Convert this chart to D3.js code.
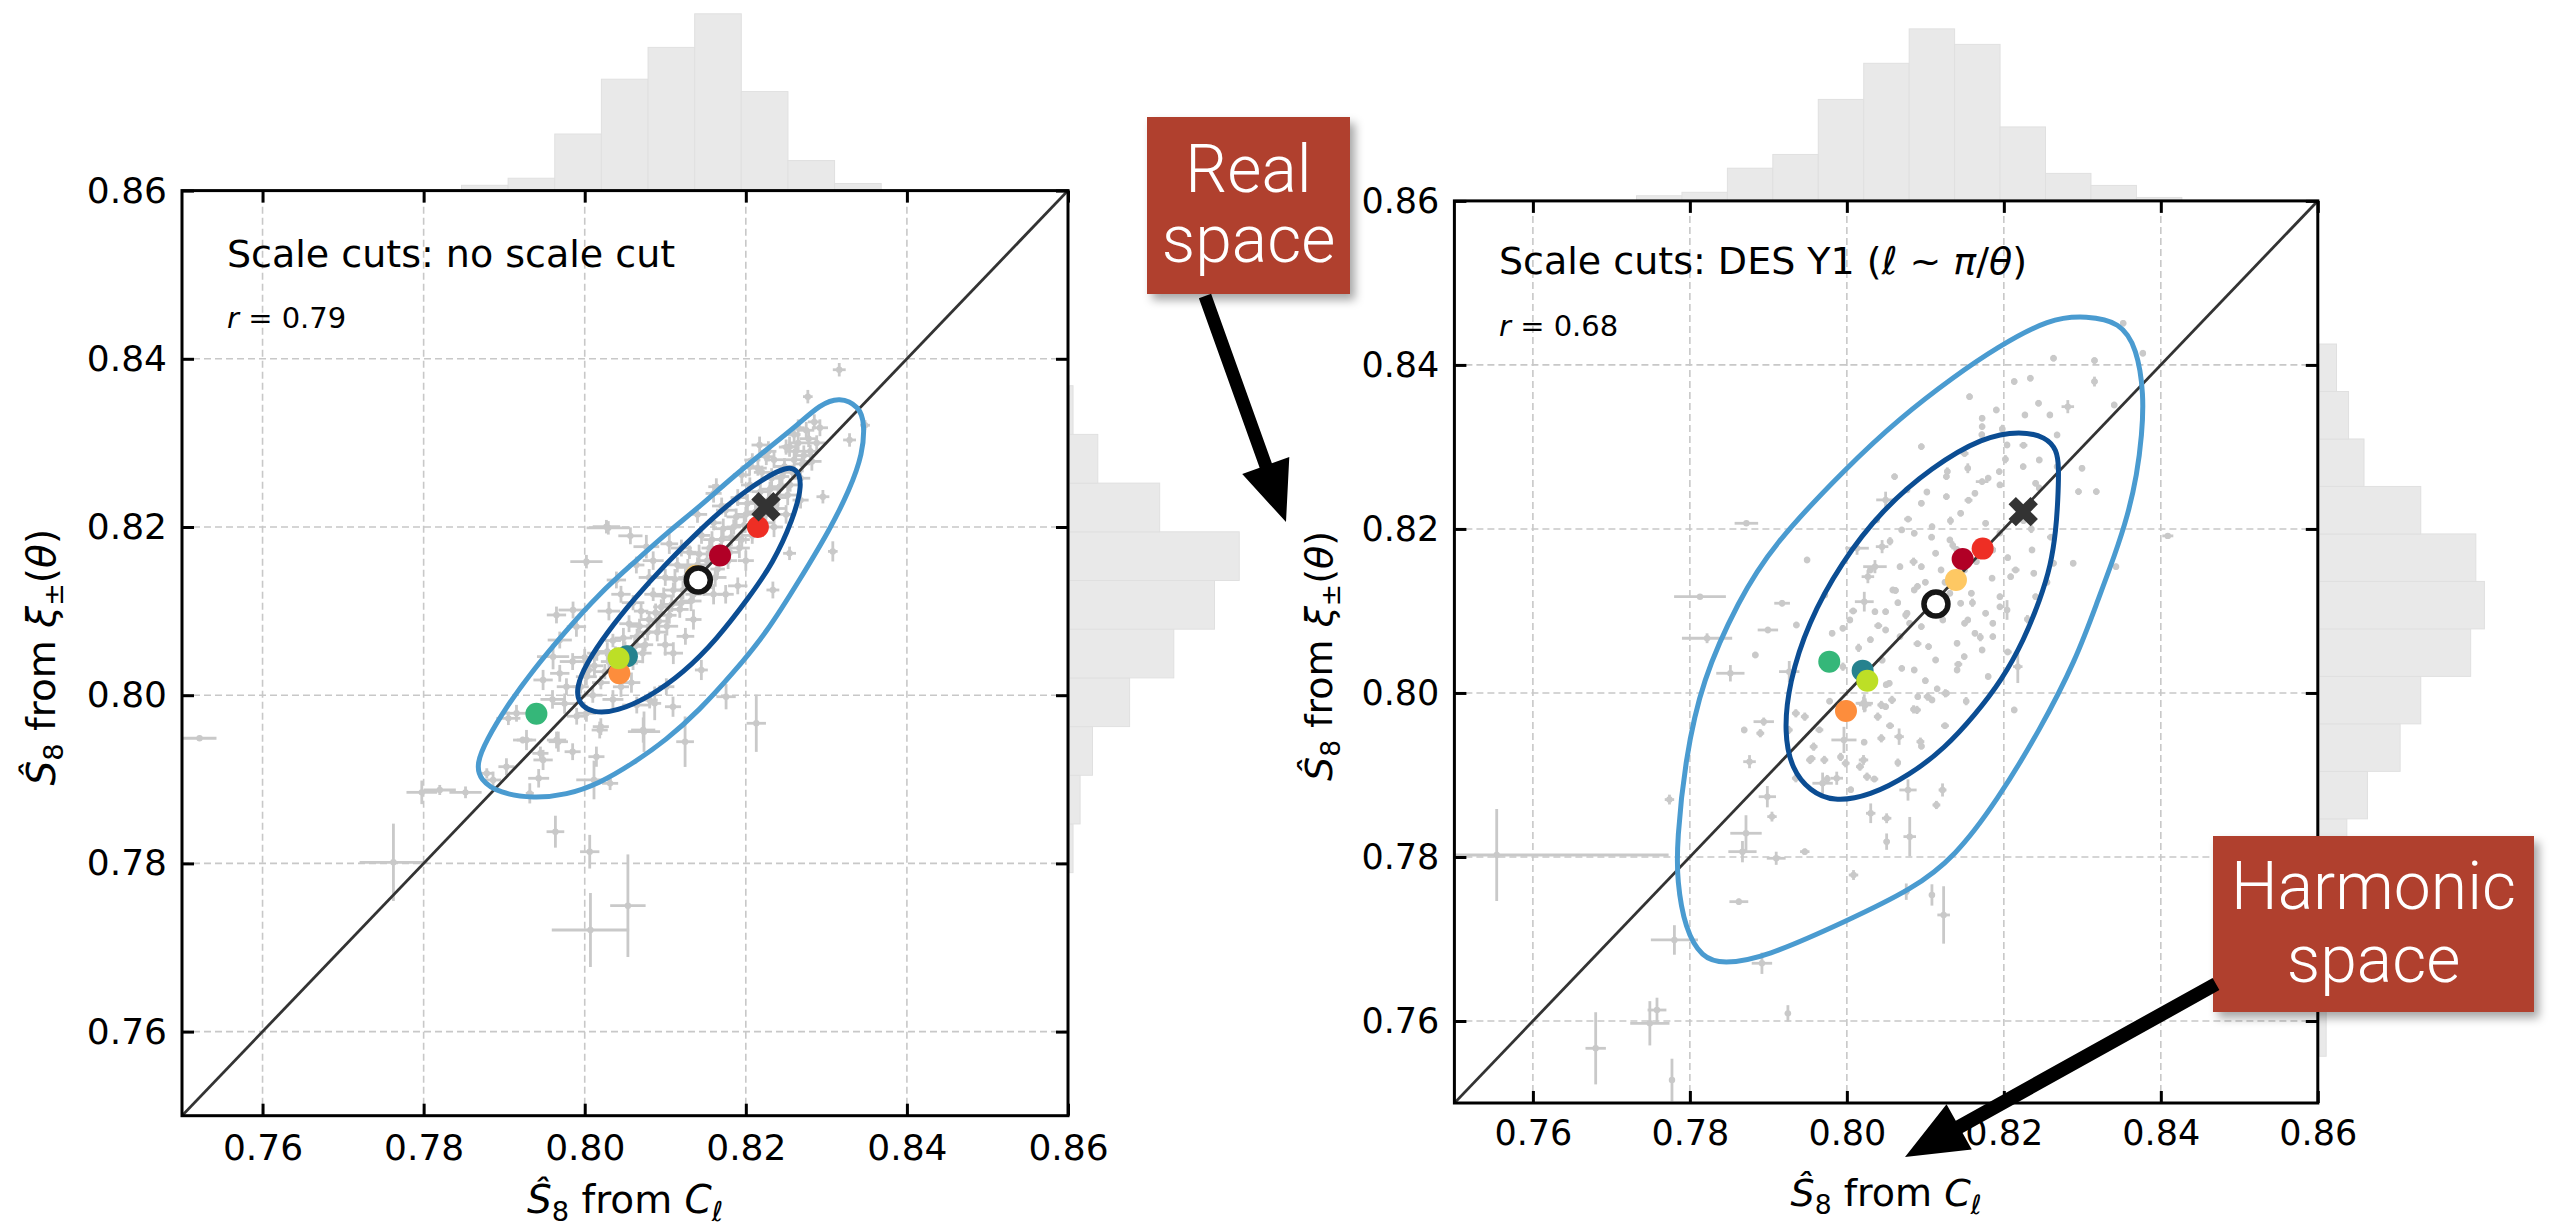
<!DOCTYPE html>
<meta charset="utf-8">
<script src="https://d3js.org/d3.v7.min.js"></script>
<style>
  body { margin: 0; background: #fff; }
  svg { display: block; }
  text { font-family: "DejaVu Sans", sans-serif; }
</style>
<div id="chart"></div>
<script>

// ---------- data ----------
var tickVals = [0.76, 0.78, 0.80, 0.82, 0.84, 0.86];
var gridVals = [0.76, 0.78, 0.80, 0.82, 0.84];
var binWidth = 0.00579;

// marginal histograms (counts, arbitrary units)
var leftTopStart = 0.7847;
var leftTopCounts = [3, 7, 32, 63, 81, 100, 56, 17, 4];
var leftSideStart = 0.7789;
var leftSideCounts = [2, 6, 13, 34, 59, 82, 96, 51, 16, 2];
var rightTopStart = 0.7732;
var rightTopCounts = [3, 5, 19, 27, 59, 80, 100, 91, 43, 16, 9, 2];
var rightSideStart = 0.7557;
var rightSideCounts = [4, 5, 8, 13, 16, 28, 47, 59, 88, 96, 91, 59, 26, 17, 10];

// simulations: [x, y, xerr, yerr]
var leftPoints = [
  [0.77625,0.78013,0.0042,0.0046],[0.80071,0.77208,0.0048,0.0044],[0.80536,0.77497,0.0022,0.0061],
  [0.80062,0.78139,0.0012,0.0020],[0.79636,0.78377,0.0011,0.0019],[0.77977,0.78845,0.0019,0.0014],
  [0.78520,0.78845,0.0020,0.0007],[0.75218,0.79488,0.0021,0.0003],[0.81246,0.79447,0.0011,0.0030],
  [0.80736,0.79566,0.0020,0.0024],[0.80115,0.78992,0.0022,0.0023],[0.79428,0.79012,0.0013,0.0011],
  [0.79318,0.78833,0.0005,0.0012],[0.81755,0.79982,0.0012,0.0015],[0.80315,0.78952,0.0010,0.0008],
  [0.78784,0.79071,0.0008,0.0006],[0.79230,0.79467,0.0012,0.0004],[0.79672,0.79447,0.0012,0.0012],
  [0.79850,0.79328,0.0010,0.0010],[0.79450,0.79309,0.0010,0.0008],[0.79052,0.79725,0.0015,0.0008],
  [0.80200,0.79626,0.0010,0.0010],[0.80646,0.79883,0.0018,0.0010],[0.80869,0.79903,0.0008,0.0020],
  [0.82770,0.83550,0.0006,0.0008],[0.83080,0.81710,0.0006,0.0012],[0.82543,0.81687,0.0008,0.0008],
  [0.82336,0.81251,0.0008,0.0010],[0.82130,0.79666,0.0012,0.0034],[0.81448,0.80300,0.0008,0.0012],
  [0.80269,0.82004,0.0017,0.0008],[0.80641,0.81548,0.0010,0.0010],[0.80765,0.81766,0.0016,0.0014],
  [0.81634,0.82479,0.0010,0.0010],[0.82957,0.82360,0.0008,0.0008],[0.83288,0.83035,0.0008,0.0008],
  [0.82171,0.82975,0.0010,0.0010],[0.82254,0.82836,0.0010,0.0010],[0.82543,0.82955,0.0010,0.0012],
  [0.82600,0.83100,0.0008,0.0010],[0.82650,0.83180,0.0008,0.0010],[0.82081,0.82797,0.0010,0.0008],
  [0.82047,0.82717,0.0010,0.0010],[0.80021,0.81588,0.0020,0.0008],[0.80393,0.81370,0.0012,0.0010],
  [0.79855,0.81013,0.0018,0.0010],[0.79649,0.80954,0.0012,0.0010],[0.79897,0.80815,0.0012,0.0012],
  [0.79690,0.80656,0.0015,0.0010],[0.79607,0.80458,0.0020,0.0015],[0.79690,0.80260,0.0012,0.0010],
  [0.79773,0.80101,0.0012,0.0010],[0.79483,0.80181,0.0012,0.0012],[0.79153,0.79785,0.0015,0.0010],
  [0.79277,0.79467,0.0012,0.0012],[0.79650,0.79467,0.0012,0.0010],[0.80021,0.79785,0.0012,0.0010],
  [0.80186,0.79586,0.0010,0.0010],[0.80145,0.79269,0.0010,0.0012],[0.80726,0.79586,0.0015,0.0015],
  [0.80806,0.79943,0.0010,0.0010],[0.81013,0.80101,0.0010,0.0010],[0.81096,0.79863,0.0010,0.0012],
  [0.79483,0.79230,0.0012,0.0012],[0.79028,0.79150,0.0010,0.0010],[0.78862,0.78992,0.0010,0.0010],
  [0.78200,0.78873,0.0020,0.0006],[0.83160,0.83870,0.0008,0.0008],[0.83480,0.83210,0.0006,0.0006],
  [0.80293,0.81990,0.0027,0.0008],[0.80567,0.81895,0.0015,0.0010],
  [0.7995,0.8010,0.0010,0.0008],[0.8010,0.8000,0.0012,0.0009],[0.8005,0.8030,0.0009,0.0010],
  [0.8020,0.8015,0.0011,0.0008],[0.8030,0.8040,0.0010,0.0010],[0.8015,0.8050,0.0012,0.0009],
  [0.8040,0.8025,0.0009,0.0011],[0.8050,0.8055,0.0012,0.0009],[0.8035,0.8065,0.0010,0.0008],
  [0.8060,0.8040,0.0011,0.0010],[0.8065,0.8070,0.0009,0.0009],[0.8055,0.8085,0.0012,0.0010],
  [0.8075,0.8060,0.0010,0.0008],[0.8080,0.8090,0.0011,0.0010],[0.8070,0.8100,0.0009,0.0009],
  [0.8090,0.8075,0.0012,0.0011],[0.8095,0.8105,0.0010,0.0009],[0.8085,0.8120,0.0011,0.0008],
  [0.8105,0.8095,0.0009,0.0010],[0.8110,0.8125,0.0012,0.0009],[0.8100,0.8140,0.0010,0.0010],
  [0.8120,0.8110,0.0011,0.0008],[0.8125,0.8140,0.0009,0.0011],[0.8115,0.8155,0.0012,0.0009],
  [0.8135,0.8120,0.0010,0.0010],[0.8140,0.8155,0.0011,0.0009],[0.8130,0.8170,0.0009,0.0008],
  [0.8150,0.8140,0.0012,0.0010],[0.8155,0.8175,0.0010,0.0009],[0.8145,0.8190,0.0011,0.0010],
  [0.8165,0.8150,0.0009,0.0008],[0.8170,0.8185,0.0012,0.0011],[0.8160,0.8205,0.0010,0.0009],
  [0.8180,0.8170,0.0011,0.0010],[0.8185,0.8200,0.0009,0.0009],[0.8175,0.8220,0.0012,0.0008],
  [0.8195,0.8185,0.0010,0.0010],[0.8200,0.8215,0.0011,0.0009],[0.8190,0.8235,0.0009,0.0010],
  [0.8210,0.8200,0.0012,0.0008],[0.8215,0.8230,0.0010,0.0011],[0.8205,0.8250,0.0011,0.0009],
  [0.8225,0.8215,0.0009,0.0010],[0.8230,0.8245,0.0012,0.0009],[0.8220,0.8265,0.0010,0.0008],
  [0.8240,0.8235,0.0011,0.0010],[0.8245,0.8260,0.0009,0.0009],[0.8235,0.8280,0.0012,0.0010],
  [0.8255,0.8250,0.0010,0.0008],[0.8260,0.8280,0.0011,0.0011],[0.8250,0.8295,0.0009,0.0009],
  [0.8270,0.8275,0.0010,0.0010],[0.8265,0.8300,0.0012,0.0009],[0.8280,0.8290,0.0009,0.0008],
  [0.8275,0.8315,0.0010,0.0010],[0.8285,0.8325,0.0008,0.0009],
  [0.8000,0.8045,0.0015,0.0010],[0.8045,0.8010,0.0010,0.0012],[0.8060,0.8110,0.0014,0.0009],
  [0.8100,0.8060,0.0010,0.0013],[0.8120,0.8175,0.0013,0.0010],[0.8160,0.8120,0.0011,0.0012],
  [0.8170,0.8225,0.0012,0.0010],[0.8200,0.8160,0.0010,0.0012],[0.8215,0.8270,0.0011,0.0009],
  [0.8250,0.8215,0.0010,0.0011],[0.8080,0.8140,0.0013,0.0010],[0.8135,0.8090,0.0010,0.0012],
  [0.8002,0.8022,0.0013,0.0010],[0.8012,0.8035,0.0011,0.0012],[0.8025,0.8028,0.0014,0.0009],
  [0.8028,0.8052,0.0012,0.0011],[0.8038,0.8048,0.0013,0.0010],[0.8048,0.8068,0.0011,0.0012],
  [0.8052,0.8038,0.0014,0.0010],[0.8062,0.8058,0.0012,0.0011],[0.8068,0.8082,0.0013,0.0009],
  [0.8072,0.8050,0.0011,0.0012],[0.8078,0.8075,0.0014,0.0010],[0.8088,0.8098,0.0012,0.0011],
  [0.8092,0.8088,0.0013,0.0012],[0.8098,0.8118,0.0011,0.0010],[0.8102,0.8082,0.0014,0.0011],
  [0.8108,0.8108,0.0012,0.0009],[0.8112,0.8138,0.0013,0.0012],[0.8118,0.8102,0.0011,0.0010],
  [0.8122,0.8125,0.0014,0.0011],[0.8128,0.8152,0.0012,0.0010],[0.8132,0.8112,0.0013,0.0012],
  [0.8138,0.8138,0.0011,0.0009],[0.8142,0.8168,0.0014,0.0011],[0.8148,0.8128,0.0012,0.0010],
  [0.8152,0.8160,0.0013,0.0012],[0.8158,0.8185,0.0011,0.0010],[0.8162,0.8140,0.0014,0.0011],
  [0.8168,0.8172,0.0012,0.0009],[0.8172,0.8198,0.0013,0.0012],[0.8178,0.8160,0.0011,0.0010],
  [0.8182,0.8188,0.0014,0.0011],[0.8188,0.8212,0.0012,0.0010],[0.8192,0.8175,0.0013,0.0012],
  [0.8198,0.8202,0.0011,0.0009],[0.8202,0.8228,0.0014,0.0011],[0.8208,0.8190,0.0012,0.0010],
  [0.8212,0.8218,0.0013,0.0012],[0.8218,0.8242,0.0011,0.0010],[0.8222,0.8205,0.0014,0.0011],
  [0.8228,0.8232,0.0012,0.0009],[0.8232,0.8258,0.0013,0.0012],[0.8238,0.8222,0.0011,0.0010],
  [0.8242,0.8248,0.0014,0.0011],[0.8248,0.8272,0.0012,0.0010],[0.8252,0.8238,0.0013,0.0012],
  [0.8258,0.8265,0.0011,0.0009],[0.8262,0.8290,0.0014,0.0011],[0.8268,0.8258,0.0012,0.0010],
  [0.8272,0.8285,0.0013,0.0012],[0.8278,0.8305,0.0011,0.0010],[0.8282,0.8278,0.0012,0.0011],
  [0.8288,0.8300,0.0011,0.0009],[0.8292,0.8318,0.0010,0.0010],
  [0.7985,0.8040,0.0016,0.0010],[0.7975,0.7990,0.0014,0.0012],[0.7960,0.7995,0.0015,0.0011],
  [0.7990,0.7975,0.0012,0.0010],[0.8035,0.7995,0.0013,0.0011],[0.8058,0.8015,0.0011,0.0012],
  [0.8110,0.8050,0.0012,0.0013],[0.8125,0.8070,0.0011,0.0010],[0.8175,0.8120,0.0010,0.0011],
  [0.8190,0.8130,0.0012,0.0010],[0.8235,0.8200,0.0011,0.0012],[0.8268,0.8232,0.0010,0.0010],
  [0.8030,0.8100,0.0014,0.0011],[0.8045,0.8120,0.0012,0.0010],[0.8085,0.8160,0.0013,0.0011],
  [0.8105,0.8180,0.0011,0.0012],[0.8140,0.8215,0.0012,0.0010],[0.8160,0.8240,0.0010,0.0011],
  [0.8195,0.8262,0.0011,0.0010],[0.8228,0.8290,0.0010,0.0012]
];

var rightPoints = [
  [0.75539,0.78024,0.0219,0.0056],[0.78715,0.78289,0.0020,0.0022],[0.78670,0.78065,0.0018,0.0013],
  [0.78987,0.78735,0.0011,0.0013],[0.79100,0.77984,0.0012,0.0008],[0.77803,0.76988,0.0030,0.0018],
  [0.78918,0.76704,0.0013,0.0013],[0.77490,0.75972,0.0025,0.0027],[0.77581,0.76134,0.0012,0.0015],
  [0.76800,0.75667,0.0013,0.0044],[0.77772,0.75280,0.0002,0.0026],[0.79249,0.76093,0.0004,0.0010],
  [0.81233,0.77293,0.0008,0.0035],[0.81084,0.77537,0.0004,0.0013],[0.80757,0.77577,0.0004,0.0010],
  [0.80085,0.77780,0.0006,0.0006],[0.80801,0.78248,0.0008,0.0024],[0.80507,0.78187,0.0004,0.0010],
  [0.80507,0.78472,0.0006,0.0006],[0.80304,0.78533,0.0006,0.0012],[0.79046,0.78492,0.0006,0.0006],
  [0.77740,0.78700,0.0006,0.0006],[0.79464,0.78065,0.0006,0.0004],[0.78624,0.77455,0.0012,0.0004],
  [0.80779,0.78817,0.0011,0.0013],[0.81141,0.78634,0.0005,0.0005],[0.81219,0.78817,0.0005,0.0008],
  [0.80394,0.79711,0.0005,0.0005],[0.80212,0.79874,0.0008,0.0008],[0.79963,0.79427,0.0016,0.0016],
  [0.79691,0.78899,0.0013,0.0013],[0.78941,0.79650,0.0013,0.0005],[0.78692,0.79549,0.0004,0.0004],
  [0.78760,0.79162,0.0008,0.0008],[0.79464,0.79711,0.0005,0.0005],[0.79531,0.79183,0.0005,0.0005],
  [0.80212,0.79183,0.0006,0.0006],[0.80439,0.79447,0.0005,0.0005],[0.80666,0.79467,0.0006,0.0010],
  [0.80937,0.79406,0.0005,0.0005],[0.80234,0.79854,0.0008,0.0008],[0.80439,0.79854,0.0005,0.0005],
  [0.80575,0.79915,0.0005,0.0005],[0.81029,0.79955,0.0005,0.0005],[0.80893,0.79793,0.0005,0.0005],
  [0.81255,0.79996,0.0005,0.0005],[0.79350,0.79752,0.0005,0.0005],[0.79260,0.79549,0.0005,0.0005],
  [0.79577,0.79345,0.0005,0.0005],[0.79713,0.79183,0.0005,0.0005],[0.79985,0.79143,0.0005,0.0005],
  [0.80257,0.78979,0.0005,0.0005],[0.79350,0.78960,0.0005,0.0005],[0.79871,0.78960,0.0008,0.0008],
  [0.80167,0.79101,0.0005,0.0005],[0.78897,0.79509,0.0005,0.0005],
  [0.82633,0.84082,0.0004,0.0004],[0.83155,0.84053,0.0004,0.0004],[0.83155,0.83797,0.0004,0.0006],
  [0.83520,0.84508,0.0004,0.0004],[0.83771,0.84143,0.0004,0.0004],[0.82338,0.83838,0.0004,0.0004],
  [0.82132,0.83797,0.0004,0.0004],[0.81563,0.83613,0.0004,0.0004],[0.82442,0.83533,0.0004,0.0004],
  [0.82815,0.83491,0.0008,0.0008],[0.81904,0.83451,0.0004,0.0004],[0.82269,0.83390,0.0004,0.0004],
  [0.82587,0.83390,0.0004,0.0004],[0.81723,0.83350,0.0004,0.0004],[0.81723,0.83248,0.0004,0.0004],
  [0.83406,0.83512,0.0004,0.0004],[0.82678,0.83146,0.0004,0.0004],[0.80949,0.83004,0.0004,0.0004],
  [0.82041,0.83024,0.0004,0.0004],[0.82451,0.82841,0.0004,0.0004],[0.82996,0.82740,0.0004,0.0004],
  [0.82678,0.82760,0.0004,0.0004],[0.82246,0.82760,0.0004,0.0004],[0.81541,0.82740,0.0004,0.0006],
  [0.81941,0.82699,0.0004,0.0004],[0.81268,0.82638,0.0004,0.0004],[0.80608,0.82638,0.0004,0.0004],
  [0.82951,0.82455,0.0004,0.0004],[0.83178,0.82455,0.0004,0.0004],[0.81723,0.82577,0.0008,0.0004],
  [0.81632,0.82435,0.0004,0.0004],[0.81950,0.82537,0.0004,0.0004],[0.82405,0.82557,0.0004,0.0004],
  [0.80494,0.82354,0.0012,0.0010],[0.80767,0.82476,0.0004,0.0004],[0.80949,0.82313,0.0004,0.0004],
  [0.81268,0.82394,0.0004,0.0004],[0.81450,0.82191,0.0004,0.0004],[0.81768,0.82069,0.0004,0.0004],
  [0.81085,0.82028,0.0004,0.0004],[0.80699,0.81988,0.0004,0.0004],[0.80858,0.81948,0.0004,0.0004],
  [0.80381,0.82110,0.0004,0.0004],[0.78720,0.82069,0.0015,0.0003],[0.84089,0.81915,0.0007,0.0003],
  [0.82359,0.81744,0.0004,0.0004],[0.82633,0.81582,0.0004,0.0004],[0.82883,0.81582,0.0004,0.0004],
  [0.83429,0.81540,0.0004,0.0004],[0.82382,0.81460,0.0004,0.0004],[0.82087,0.81418,0.0004,0.0004],
  [0.81950,0.81174,0.0004,0.0004],[0.81860,0.81744,0.0004,0.0004],[0.81131,0.81704,0.0004,0.0004],
  [0.81313,0.81866,0.0004,0.0004],[0.80949,0.81540,0.0004,0.0004],[0.80677,0.81540,0.0004,0.0004],
  [0.80358,0.81540,0.0015,0.0008],[0.80268,0.81418,0.0008,0.0008],[0.80449,0.81784,0.0008,0.0008],
  [0.80130,0.81765,0.0015,0.0008],[0.79493,0.81622,0.0004,0.0004],[0.80586,0.81256,0.0004,0.0004],
  [0.80858,0.81256,0.0004,0.0004],[0.81586,0.81216,0.0004,0.0004],[0.81313,0.81216,0.0004,0.0004],
  [0.81450,0.81094,0.0004,0.0004],[0.81768,0.80972,0.0004,0.0004],[0.82041,0.81012,0.0004,0.0012],
  [0.80222,0.81113,0.0012,0.0012],[0.79721,0.81195,0.0004,0.0004],[0.79175,0.81094,0.0010,0.0004],
  [0.80494,0.80991,0.0004,0.0004],[0.80767,0.80972,0.0004,0.0004],[0.80358,0.80991,0.0004,0.0004],
  [0.80949,0.80809,0.0004,0.0004],[0.81223,0.80890,0.0004,0.0004],[0.81541,0.80890,0.0004,0.0004],
  [0.81860,0.80850,0.0004,0.0004],[0.81632,0.80728,0.0004,0.0004],[0.81404,0.80606,0.0004,0.0004],
  [0.81041,0.80565,0.0004,0.0004],[0.80677,0.80687,0.0004,0.0004],[0.80494,0.80768,0.0004,0.0004],
  [0.80039,0.80890,0.0004,0.0004],[0.79949,0.80789,0.0004,0.0004],[0.79812,0.80728,0.0004,0.0004],
  [0.79357,0.80829,0.0004,0.0004],[0.78994,0.80768,0.0013,0.0004],[0.78219,0.80667,0.0032,0.0006],
  [0.78129,0.81174,0.0033,0.0003],[0.78834,0.80463,0.0004,0.0004],[0.78516,0.80240,0.0018,0.0010],
  [0.79266,0.80260,0.0013,0.0013],[0.80540,0.80118,0.0004,0.0004],[0.80858,0.80280,0.0004,0.0004],
  [0.81131,0.80402,0.0004,0.0004],[0.81404,0.80280,0.0004,0.0004],[0.81495,0.80443,0.0004,0.0004],
  [0.81723,0.80524,0.0004,0.0004],[0.81860,0.80687,0.0004,0.0004],[0.82178,0.80321,0.0006,0.0020],
  [0.80494,0.79833,0.0004,0.0004],[0.80222,0.79874,0.0011,0.0011],[0.80904,0.79955,0.0004,0.0004],
  [0.81085,0.79915,0.0004,0.0004],[0.81268,0.79996,0.0004,0.0004],[0.82132,0.79793,0.0004,0.0004],
  [0.82405,0.81174,0.0004,0.0004],
  [0.8110,0.8120,0.0004,0.0004],[0.8125,0.8135,0.0004,0.0004],[0.8150,0.8150,0.0004,0.0004],
  [0.8165,0.8160,0.0004,0.0004],[0.8100,0.8105,0.0004,0.0004],[0.8090,0.8130,0.0004,0.0004],
  [0.8140,0.8175,0.0004,0.0004],[0.8175,0.8185,0.0004,0.0004],[0.8195,0.8195,0.0004,0.0004],
  [0.8205,0.8165,0.0004,0.0004],[0.8185,0.8140,0.0004,0.0004],[0.8120,0.8095,0.0004,0.0004],
  [0.8080,0.8085,0.0004,0.0004],[0.8065,0.8110,0.0004,0.0004],[0.8045,0.8040,0.0004,0.0004],
  [0.8030,0.8065,0.0004,0.0004],[0.8070,0.8030,0.0004,0.0004],[0.8100,0.8015,0.0004,0.0004],
  [0.8150,0.8085,0.0004,0.0004],[0.8225,0.8210,0.0004,0.0004],
  [0.8015,0.8055,0.0004,0.0005],[0.8040,0.8082,0.0005,0.0004],[0.8062,0.8125,0.0004,0.0004],
  [0.8085,0.8160,0.0005,0.0005],[0.8108,0.8190,0.0004,0.0004],[0.8132,0.8210,0.0004,0.0005],
  [0.8155,0.8235,0.0005,0.0004],[0.8180,0.8262,0.0004,0.0004],[0.8202,0.8285,0.0004,0.0005],
  [0.8225,0.8302,0.0005,0.0004],[0.8245,0.8250,0.0004,0.0004],[0.8235,0.8200,0.0004,0.0005],
  [0.8215,0.8150,0.0005,0.0004],[0.8195,0.8105,0.0004,0.0004],[0.8170,0.8068,0.0004,0.0005],
  [0.8142,0.8035,0.0005,0.0004],[0.8115,0.8005,0.0004,0.0004],[0.8085,0.7980,0.0004,0.0005],
  [0.8055,0.7960,0.0005,0.0004],[0.8022,0.7940,0.0004,0.0004],[0.7992,0.7922,0.0004,0.0005],
  [0.7965,0.7955,0.0005,0.0004],[0.7978,0.7990,0.0004,0.0004],[0.7995,0.8032,0.0004,0.0005],
  [0.8008,0.8100,0.0005,0.0004],[0.8030,0.8150,0.0004,0.0004],[0.8055,0.8185,0.0004,0.0005],
  [0.8078,0.8212,0.0005,0.0004],[0.8102,0.8245,0.0004,0.0004],[0.8128,0.8270,0.0004,0.0005],
  [0.8150,0.8292,0.0005,0.0004],[0.8172,0.8315,0.0004,0.0004],[0.8198,0.8322,0.0004,0.0005],
  [0.8260,0.8190,0.0005,0.0004],[0.8255,0.8135,0.0004,0.0004],[0.8230,0.8090,0.0004,0.0005],
  [0.8205,0.8050,0.0005,0.0004],[0.8180,0.8020,0.0004,0.0004],[0.8152,0.7990,0.0004,0.0005],
  [0.8125,0.7960,0.0005,0.0004],[0.8095,0.7935,0.0004,0.0004],[0.8065,0.7915,0.0004,0.0005],
  [0.8035,0.7895,0.0005,0.0004],[0.8005,0.7882,0.0004,0.0004],[0.7975,0.7895,0.0004,0.0005],
  [0.7955,0.7920,0.0005,0.0004],[0.8120,0.8150,0.0004,0.0004],[0.8160,0.8110,0.0004,0.0005],
  [0.8090,0.8060,0.0005,0.0004],[0.8050,0.8010,0.0004,0.0004],[0.8135,0.8180,0.0004,0.0005],
  [0.8185,0.8175,0.0005,0.0004],[0.8100,0.8135,0.0004,0.0004],[0.8075,0.8095,0.0004,0.0005]
];

// confidence contours, traced points [x, y]
var leftOuter = [
  [0.83474,0.83233],[0.83453,0.82876],[0.83288,0.82440],[0.83040,0.81964],[0.82667,0.81370],
  [0.82254,0.80736],[0.81840,0.80261],[0.81427,0.79824],[0.81013,0.79467],[0.80600,0.79190],
  [0.80186,0.78952],[0.79773,0.78813],[0.79359,0.78774],[0.78945,0.78833],[0.78697,0.78992],
  [0.78656,0.79190],[0.78780,0.79467],[0.79028,0.79863],[0.79359,0.80300],[0.79773,0.80775],
  [0.80186,0.81212],[0.80600,0.81568],[0.81013,0.81925],[0.81427,0.82241],[0.81840,0.82598],
  [0.82254,0.82916],[0.82667,0.83233],[0.82916,0.83451],[0.83164,0.83550],[0.83412,0.83431]
];
var leftInner = [
  [0.82626,0.82698],[0.82709,0.82520],[0.82584,0.82083],[0.82336,0.81568],[0.82047,0.81172],
  [0.81634,0.80656],[0.81220,0.80261],[0.80806,0.79982],[0.80393,0.79804],[0.80103,0.79785],
  [0.79917,0.79904],[0.79897,0.80102],[0.80021,0.80380],[0.80269,0.80736],[0.80600,0.81132],
  [0.81013,0.81568],[0.81427,0.81964],[0.81840,0.82321],[0.82254,0.82598],[0.82502,0.82710]
];
var rightOuter = [
  [0.83059,0.84598],[0.83479,0.84524],[0.83696,0.84207],[0.83785,0.83634],[0.83759,0.83146],
  [0.83696,0.82659],[0.83581,0.82171],[0.83415,0.81683],[0.83199,0.81134],[0.82918,0.80402],
  [0.82460,0.79549],[0.81912,0.78683],[0.81377,0.78000],[0.80842,0.77610],[0.80001,0.77220],
  [0.78944,0.76768],[0.78422,0.76695],[0.78154,0.76768],[0.77938,0.77122],[0.77836,0.77707],
  [0.77836,0.78195],[0.77938,0.79171],[0.78154,0.80159],[0.78625,0.81134],[0.79046,0.81793],
  [0.80001,0.82756],[0.80676,0.83354],[0.81377,0.83866],[0.81899,0.84207],[0.82587,0.84573]
];
var rightInner = [
  [0.81734,0.83122],[0.82218,0.83195],[0.82536,0.83122],[0.82676,0.82963],[0.82702,0.82756],
  [0.82689,0.82354],[0.82664,0.81988],[0.82600,0.81561],[0.82460,0.81134],[0.82256,0.80646],
  [0.81976,0.80159],[0.81632,0.79732],[0.81250,0.79329],[0.80804,0.79000],[0.80294,0.78744],
  [0.79823,0.78671],[0.79530,0.78805],[0.79301,0.79061],[0.79199,0.79512],[0.79262,0.80122],
  [0.79504,0.80854],[0.79925,0.81585],[0.80447,0.82232],[0.81084,0.82756]
];

// highlighted estimates: same order as markerColors
var markerColors = ["#fec863", "#35b779", "#26828e", "#fd8d3c", "#bddf26", "#b10026", "#ee2e24"];
var leftMarkers = [[0.8138,0.8142],[0.7940,0.7978],[0.80524,0.80464],[0.8043,0.8026],[0.8042,0.8044],[0.8168,0.8166],[0.8215,0.8200]];
var rightMarkers = [[0.81390,0.81378],[0.79776,0.80382],[0.80201,0.80272],[0.79989,0.79780],[0.80260,0.80150],[0.81475,0.81634],[0.81730,0.81760]];
var leftMean = [0.8141, 0.8137];
var rightMean = [0.81135, 0.81085];
var leftTruth = [0.8225, 0.8224];
var rightTruth = [0.82247, 0.82211];

// ---------- drawing ----------
var svg = d3.select("#chart").append("svg")
    .attr("width", 2550)
    .attr("height", 1230);

var defs = svg.append("defs");
var f = defs.append("filter").attr("id", "shadow")
    .attr("x", "-10%").attr("y", "-10%").attr("width", "130%").attr("height", "140%");
f.append("feDropShadow").attr("dx", 5).attr("dy", 6).attr("stdDeviation", 5)
    .attr("flood-color", "#000").attr("flood-opacity", 0.35);

// writes mathtext-like pieces into a text element
function mathText(sel, parts, fs) {
  var shift = 0;
  parts.forEach(function(p) {
    var ts = sel.append("tspan").text(p.t);
    if (p.i) ts.attr("font-style", "italic");
    var target = p.sub ? fs * 0.2 : 0;
    if (target !== shift) { ts.attr("dy", target - shift); shift = target; }
    if (p.sub) ts.attr("font-size", fs * 0.7);
  });
}

var panels = [
  { id: "L", xr: [182, 1068], yr: [1115.7, 190.6], histMax: 176.8,
    pts: leftPoints, outer: leftOuter, inner: leftInner, markers: leftMarkers,
    mean: leftMean, truth: leftTruth,
    topStart: leftTopStart, topCounts: leftTopCounts, sideStart: leftSideStart, sideCounts: leftSideCounts,
    fs: 36, xPad: 18.5, yPad: 15, xLabelY: 1213, yLabelX: 55,
    title: [{t: "Scale cuts: no scale cut"}], titleX: 227, titleY: 267, rY: 328, rVal: "0.79" },
  { id: "R", xr: [1454.4, 2317.8], yr: [1103, 200.9], histMax: 172,
    pts: rightPoints, outer: rightOuter, inner: rightInner, markers: rightMarkers,
    mean: rightMean, truth: rightTruth,
    topStart: rightTopStart, topCounts: rightTopCounts, sideStart: rightSideStart, sideCounts: rightSideCounts,
    fs: 35, xPad: 17.5, yPad: 15, xLabelY: 1206, yLabelX: 1332,
    title: [{t: "Scale cuts: DES Y1 ("}, {t: "\u2113", i: true}, {t: " ~ "}, {t: "\u03c0", i: true}, {t: "/"}, {t: "\u03b8", i: true}, {t: ")"}],
    titleX: 1499, titleY: 274, rY: 336, rVal: "0.68" }
];

panels.forEach(function(p) {
  var x = d3.scaleLinear().domain([0.75, 0.86]).range(p.xr);
  var y = d3.scaleLinear().domain([0.75, 0.86]).range(p.yr);
  var h = d3.scaleLinear().domain([0, 100]).range([0, p.histMax]);
  var g = svg.append("g");

  // marginal histograms
  g.selectAll(".histTop").data(p.topCounts).join("rect")
      .attr("class", "histTop")
      .attr("x", function(d, i) { return x(p.topStart + i * binWidth); })
      .attr("width", function(d, i) { return x(p.topStart + (i + 1) * binWidth) - x(p.topStart + i * binWidth); })
      .attr("y", function(d) { return y(0.86) - h(d); })
      .attr("height", function(d) { return h(d); })
      .attr("fill", "#e9e9e9").attr("stroke", "#e0e0e0").attr("stroke-width", 1);
  g.selectAll(".histSide").data(p.sideCounts).join("rect")
      .attr("class", "histSide")
      .attr("x", x(0.86) + 1.5)
      .attr("y", function(d, i) { return y(p.sideStart + (i + 1) * binWidth); })
      .attr("height", function(d, i) { return y(p.sideStart + i * binWidth) - y(p.sideStart + (i + 1) * binWidth); })
      .attr("width", function(d) { return h(d); })
      .attr("fill", "#e9e9e9").attr("stroke", "#e0e0e0").attr("stroke-width", 1);

  // clip to axes box
  defs.append("clipPath").attr("id", "clip" + p.id).append("rect")
      .attr("x", p.xr[0]).attr("y", p.yr[1])
      .attr("width", p.xr[1] - p.xr[0]).attr("height", p.yr[0] - p.yr[1]);
  var inner = g.append("g").attr("clip-path", "url(#clip" + p.id + ")");

  // grid
  inner.selectAll(".gx").data(gridVals).join("line")
      .attr("x1", d => x(d)).attr("x2", d => x(d))
      .attr("y1", y(0.75)).attr("y2", y(0.86))
      .attr("stroke", "#c8c8c8").attr("stroke-width", 1.6).attr("stroke-dasharray", "7,4");
  inner.selectAll(".gy").data(gridVals).join("line")
      .attr("y1", d => y(d)).attr("y2", d => y(d))
      .attr("x1", x(0.75)).attr("x2", x(0.86))
      .attr("stroke", "#c8c8c8").attr("stroke-width", 1.6).attr("stroke-dasharray", "7,4");

  // simulations with error bars
  var pg = inner.append("g").attr("stroke", "#c9c9c9").attr("stroke-width", 2.8);
  p.pts.forEach(function(d) {
    pg.append("line").attr("x1", x(d[0] - d[2])).attr("x2", x(d[0] + d[2]))
        .attr("y1", y(d[1])).attr("y2", y(d[1]));
    pg.append("line").attr("x1", x(d[0])).attr("x2", x(d[0]))
        .attr("y1", y(d[1] - d[3])).attr("y2", y(d[1] + d[3]));
    pg.append("circle").attr("cx", x(d[0])).attr("cy", y(d[1])).attr("r", 3.2)
        .attr("fill", "#c9c9c9").attr("stroke", "none");
  });

  // one-to-one line
  inner.append("line")
      .attr("x1", x(0.75)).attr("y1", y(0.75)).attr("x2", x(0.86)).attr("y2", y(0.86))
      .attr("stroke", "#333").attr("stroke-width", 2.8);

  // contours
  var line = d3.line().x(d => x(d[0])).y(d => y(d[1])).curve(d3.curveBasisClosed);
  inner.append("path").attr("d", line(p.outer))
      .attr("fill", "none").attr("stroke", "#4a9bd0").attr("stroke-width", 5);
  inner.append("path").attr("d", line(p.inner))
      .attr("fill", "none").attr("stroke", "#0b4d93").attr("stroke-width", 5);

  // highlighted estimates
  inner.selectAll(".mk").data(p.markers).join("circle")
      .attr("cx", d => x(d[0])).attr("cy", d => y(d[1])).attr("r", 11)
      .attr("fill", (d, i) => markerColors[i]);
  inner.append("circle").attr("cx", x(p.mean[0])).attr("cy", y(p.mean[1])).attr("r", 12)
      .attr("fill", "#fff").attr("stroke", "#151515").attr("stroke-width", 5.5);
  inner.append("path").attr("d", d3.symbol(d3.symbolCross, 540)())
      .attr("transform", "translate(" + x(p.truth[0]) + "," + y(p.truth[1]) + ") rotate(45)")
      .attr("fill", "#333");

  // frame
  g.append("rect").attr("x", p.xr[0]).attr("y", p.yr[1])
      .attr("width", p.xr[1] - p.xr[0]).attr("height", p.yr[0] - p.yr[1])
      .attr("fill", "none").attr("stroke", "#000").attr("stroke-width", 3);

  // axes (ticks point inward)
  function styleAxis(a) {
    a.select(".domain").remove();
    a.selectAll(".tick line").attr("stroke", "#000").attr("stroke-width", 3);
    a.selectAll(".tick text").attr("font-family", "DejaVu Sans").attr("font-size", p.fs).attr("fill", "#000");
  }
  var fmt = d3.format(".2f");
  g.append("g").attr("transform", "translate(0," + p.yr[0] + ")")
      .call(d3.axisBottom(x).tickValues(tickVals).tickFormat(fmt).tickSizeInner(-12).tickSizeOuter(0).tickPadding(p.xPad))
      .call(styleAxis);
  g.append("g").attr("transform", "translate(" + p.xr[0] + ",0)")
      .call(d3.axisLeft(y).tickValues(tickVals).tickFormat(fmt).tickSizeInner(-12).tickSizeOuter(0).tickPadding(p.yPad))
      .call(styleAxis);
  g.append("g").attr("transform", "translate(0," + p.yr[1] + ")")
      .call(d3.axisTop(x).tickValues(tickVals).tickFormat("").tickSizeInner(-12).tickSizeOuter(0))
      .call(styleAxis);
  g.append("g").attr("transform", "translate(" + p.xr[1] + ",0)")
      .call(d3.axisRight(y).tickValues(tickVals).tickFormat("").tickSizeInner(-12).tickSizeOuter(0))
      .call(styleAxis);

  // axis labels
  var lfs = p.fs + 3;
  var xl = g.append("text").attr("x", (p.xr[0] + p.xr[1]) / 2).attr("y", p.xLabelY)
      .attr("text-anchor", "middle").attr("font-size", lfs);
  mathText(xl, [{t: "\u015c", i: true}, {t: "8", sub: true}, {t: " from "}, {t: "C", i: true}, {t: "\u2113", i: true, sub: true}], lfs);
  var yl = g.append("text")
      .attr("transform", "translate(" + p.yLabelX + "," + ((p.yr[0] + p.yr[1]) / 2 + 4) + ") rotate(-90)")
      .attr("text-anchor", "middle").attr("font-size", lfs);
  mathText(yl, [{t: "\u015c", i: true}, {t: "8", sub: true}, {t: " from "}, {t: "\u03be", i: true}, {t: "\u00b1", sub: true}, {t: "("}, {t: "\u03b8", i: true}, {t: ")"}], lfs);

  // annotations
  var tt = g.append("text").attr("x", p.titleX).attr("y", p.titleY).attr("font-size", 38);
  mathText(tt, p.title, 38);
  var rt = g.append("text").attr("x", p.titleX).attr("y", p.rY).attr("font-size", 29);
  mathText(rt, [{t: "r", i: true}, {t: " = " + p.rVal}], 29);
});

// ---------- call-out boxes and arrows ----------
function arrow(x1, y1, x2, y2, w, hl, hw) {
  var dx = x2 - x1, dy = y2 - y1, len = Math.sqrt(dx * dx + dy * dy);
  var ux = dx / len, uy = dy / len, nx = -uy, ny = ux;
  var bx = x2 - ux * hl, by = y2 - uy * hl;
  var pts = [
    [x1 + nx * w / 2, y1 + ny * w / 2], [bx + nx * w / 2, by + ny * w / 2], [bx + nx * hw / 2, by + ny * hw / 2],
    [x2, y2],
    [bx - nx * hw / 2, by - ny * hw / 2], [bx - nx * w / 2, by - ny * w / 2], [x1 - nx * w / 2, y1 - ny * w / 2]
  ];
  svg.append("path").attr("d", "M" + pts.map(q => q.join(",")).join("L") + "Z").attr("fill", "#000");
}

function callout(x0, y0, w, hgt, lines, base) {
  svg.append("rect").attr("x", x0).attr("y", y0).attr("width", w).attr("height", hgt)
      .attr("fill", "#b0412e").attr("filter", "url(#shadow)");
  lines.forEach(function(t, i) {
    svg.append("text").attr("x", x0 + w / 2).attr("y", base[i])
        .attr("text-anchor", "middle").attr("fill", "#fff")
        .style("font-family", "Roboto, 'Liberation Sans', Arial, sans-serif").style("font-weight", 300)
        .attr("font-size", 66).text(t);
  });
}

callout(1147, 117, 203, 177, ["Real", "space"], [192, 262]);
arrow(1205, 296, 1286, 522, 13, 60, 50);
callout(2213, 836, 321, 176, ["Harmonic", "space"], [909, 982]);
arrow(2216, 984, 1905, 1157, 14, 62, 52);

</script>
